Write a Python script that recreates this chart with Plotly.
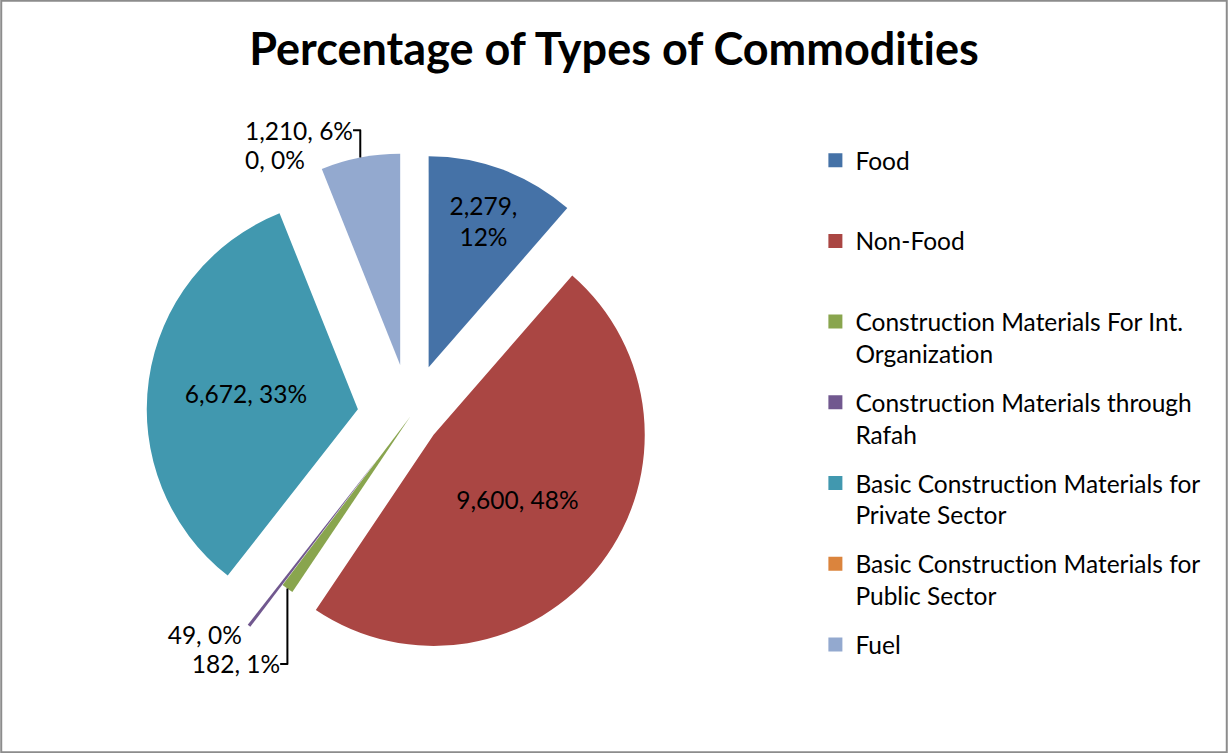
import plotly.graph_objects as go

categories = [
    "Food",
    "Non-Food",
    "Construction Materials For Int. Organization",
    "Construction Materials through Rafah",
    "Basic Construction Materials for Private Sector",
    "Basic Construction Materials for Public Sector",
    "Fuel",
]
legend_labels = [
    "Food",
    "Non-Food",
    "Construction Materials For Int.<br>Organization",
    "Construction Materials through<br>Rafah",
    "Basic Construction Materials for<br>Private Sector",
    "Basic Construction Materials for<br>Public Sector",
    "Fuel",
]
values = [2279, 9600, 182, 49, 6672, 0, 1210]
percent_labels = [12, 48, 1, 0, 33, 0, 6]
colors = ["#4572A7", "#AA4643", "#89A54E", "#71588F", "#4198AF", "#DB843D", "#93A9CF"]
pulls = [0.25, 0.14, 0.0, 0.25, 0.25, 0.25, 0.25]
text_pos = ["inside", "inside", "outside", "outside", "inside", "outside", "outside"]
templates = ["%{value:,},<br>%{customdata}%"] + ["%{value:,}, %{customdata}%"] * 6

FONT = "Lato, 'Liberation Sans', sans-serif"

fig = go.Figure()
fig.add_trace(go.Pie(
    labels=categories,
    values=values,
    customdata=percent_labels,
    sort=False,
    direction="clockwise",
    rotation=0,
    pull=pulls,
    marker=dict(colors=colors, line=dict(width=0)),
    texttemplate=templates,
    textposition=text_pos,
    insidetextorientation="horizontal",
    textfont=dict(family=FONT, size=24.5, color="black"),
    showlegend=False,
    domain=dict(x=[0.106, 0.562], y=[0.096, 0.797]),
))

for name, col in zip(legend_labels, colors):
    fig.add_trace(go.Scatter(
        x=[None], y=[None], mode="markers", name=name if "<br>" in name else name + "<br> ",
        marker=dict(symbol="square", size=14, color=col),
        legendgroup=name, showlegend=True,
    ))

fig.update_layout(
    width=1228, height=753, autosize=False,
    margin=dict(l=0, r=0, t=0, b=0, autoexpand=False),
    paper_bgcolor="white", plot_bgcolor="white",
    title=dict(text="<b>Percentage of Types of Commodities</b>", x=0.5, xanchor="center",
               y=0.934, yanchor="middle",
               font=dict(family=FONT, size=45, color="black")),
    xaxis=dict(visible=False), yaxis=dict(visible=False),
    legend=dict(x=0.664, y=0.817, xanchor="left", yanchor="top", valign="top",
                font=dict(family=FONT, size=24.5, color="black"),
                tracegroupgap=14, itemwidth=30, bgcolor="rgba(0,0,0,0)"),
    shapes=[dict(type="rect", xref="paper", yref="paper", x0=0.001, x1=0.999, y0=0.001, y1=0.999,
                 line=dict(color="#8c8c8c", width=2))],
)

post = (
    "document.body.style.margin='0';"
    "document.body.style.overflow='hidden';"
    "var st=document.createElement('style');"
    "st.textContent='text{font-variant-ligatures:none;font-feature-settings:\"liga\" 0;}';"
    "document.head.appendChild(st);"
)

fig.write_html(
    "out.html",
    config={"responsive": False, "displayModeBar": False},
    post_script=post,
)
